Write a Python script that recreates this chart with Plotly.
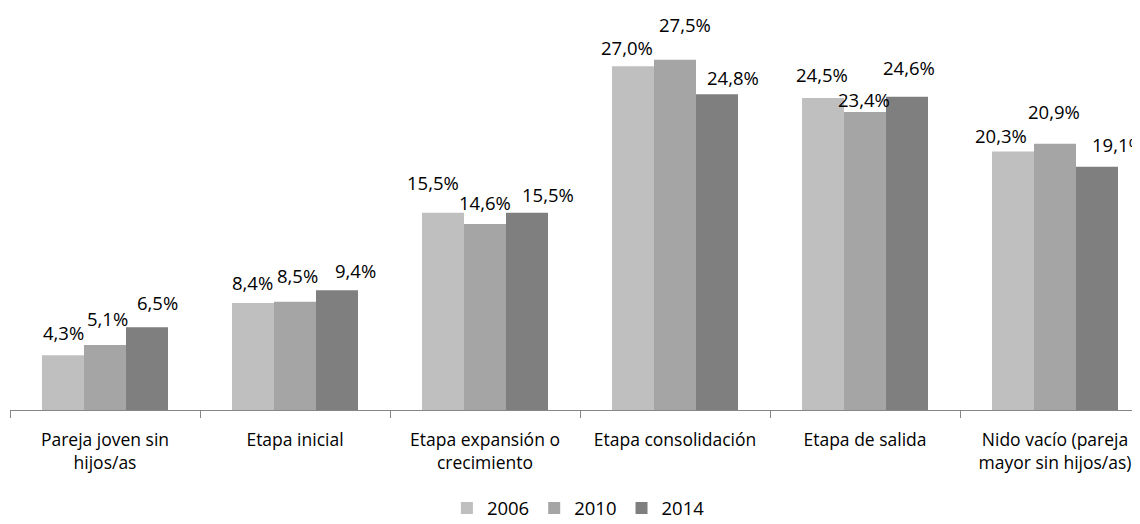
import plotly.graph_objects as go

categories = [
    "Pareja joven sin<br>hijos/as",
    "Etapa inicial",
    "Etapa expansión o<br>crecimiento",
    "Etapa consolidación",
    "Etapa de salida",
    "Nido vacío (pareja<br>mayor sin hijos/as)",
]
years = ["2006", "2010", "2014"]
v2006 = [4.3, 8.4, 15.5, 27.0, 24.5, 20.3]
v2010 = [5.1, 8.5, 14.6, 27.5, 23.4, 20.9]
v2014 = [6.5, 9.4, 15.5, 24.8, 24.6, 19.1]
series = [v2006, v2010, v2014]
colors = ["#BFBFBF", "#A5A5A5", "#7F7F7F"]

# desplazamiento manual de las etiquetas (px), como en el gráfico original
label_dx = [[0, -1, -10, -6, -1, -12],
            [2, 2, 0, 10, -1, -1],
            [10, 18, 21, 16, 2, 21]]
label_dy = [[23, 21, 30, 19, 24, 16],
            [27, 26, 22, 35, 13, 32],
            [25, 20, 18, 17, 29, 22]]
bar_px = 42

FONT = "Open Sans"

fig = go.Figure()
for i, (year, vals) in enumerate(zip(years, series)):
    fig.add_trace(go.Bar(x=categories, y=vals, name=year, marker_color=colors[i],
                         marker_line_width=0, hoverinfo="skip"))

annotations = []
for i, vals in enumerate(series):
    for j, v in enumerate(vals):
        annotations.append(dict(
            x=categories[j], y=v, xref="x", yref="y",
            text=f"{v:.1f}%".replace(".", ","),
            showarrow=False, yanchor="middle", xanchor="center",
            xshift=(i - 1) * bar_px + label_dx[i][j], yshift=label_dy[i][j],
            font=dict(family=FONT, size=18.5, color="#000000"),
        ))

# la página tiene 8px de margen: la figura se desplaza para que coincida
fig.update_layout(
    width=1132, height=524,
    margin=dict(l=2, r=0, t=20, b=122),
    paper_bgcolor="white", plot_bgcolor="white",
    barmode="group", bargap=0.337, bargroupgap=0,
    showlegend=True,
    legend=dict(orientation="h", x=0.503, xanchor="center", y=-0.258, yanchor="middle",
                font=dict(family=FONT, size=18.5, color="#000000"),
                itemwidth=30, traceorder="normal"),
    annotations=annotations,
    font=dict(family=FONT, color="#000000"),
)
fig.update_xaxes(
    range=[-0.5, 5.5 - 10 / 190],
    showline=True, linecolor="#868686", linewidth=1,
    ticks="outside", tickson="boundaries", ticklen=7, tickcolor="#868686",
    ticklabelstandoff=14,
    tickfont=dict(family=FONT, size=17.5, color="#000000"),
    showgrid=False, zeroline=False,
)
fig.update_yaxes(range=[0, 30], visible=False, showgrid=False, zeroline=False)

fig.write_html("out.html")
